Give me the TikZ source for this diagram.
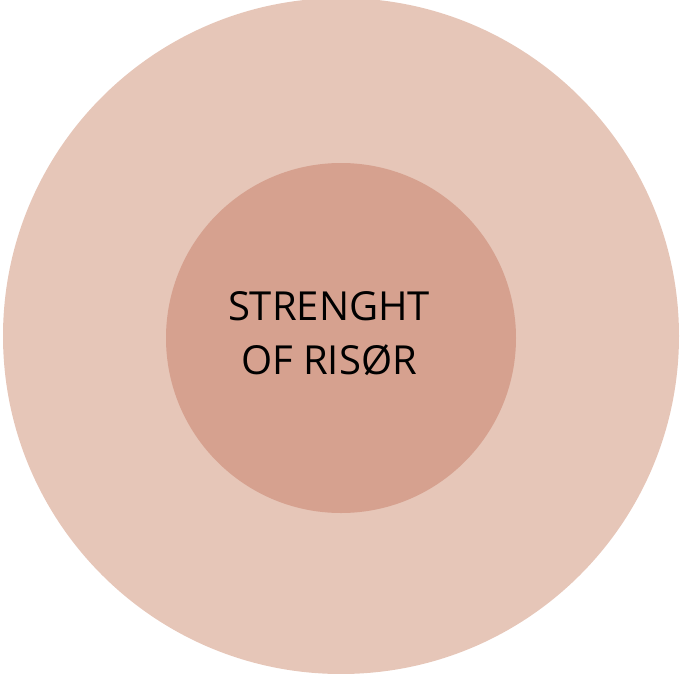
\documentclass[tikz,border=0pt]{standalone}
\usepackage{fontspec}
\setmainfont{Open Sans}
\usepackage{tikz}
\usetikzlibrary{positioning}
\definecolor{outerpink}{RGB}{230,198,184}
\definecolor{innerpink}{RGB}{214,161,143}

\begin{document}
\begin{tikzpicture}[x=1pt, y=-1pt,
        ring/.style={circle, inner sep=0pt, draw=none},
        txt/.style={align=center, inner sep=0pt, font=\fontsize{40}{54}\selectfont}
    ]
    \useasboundingbox (0,0) rectangle (681,673);
    \node[ring, fill=outerpink, minimum size=676pt] (outer) at (341,336) {};
    \node[ring, fill=innerpink, minimum size=350pt] (inner) at (341,338) {};
    \node[txt] (title) at ([xshift=-12pt, yshift=4pt]inner.center) {STRENGHT\\OF RISØR};
    \end{tikzpicture}
\end{document}
